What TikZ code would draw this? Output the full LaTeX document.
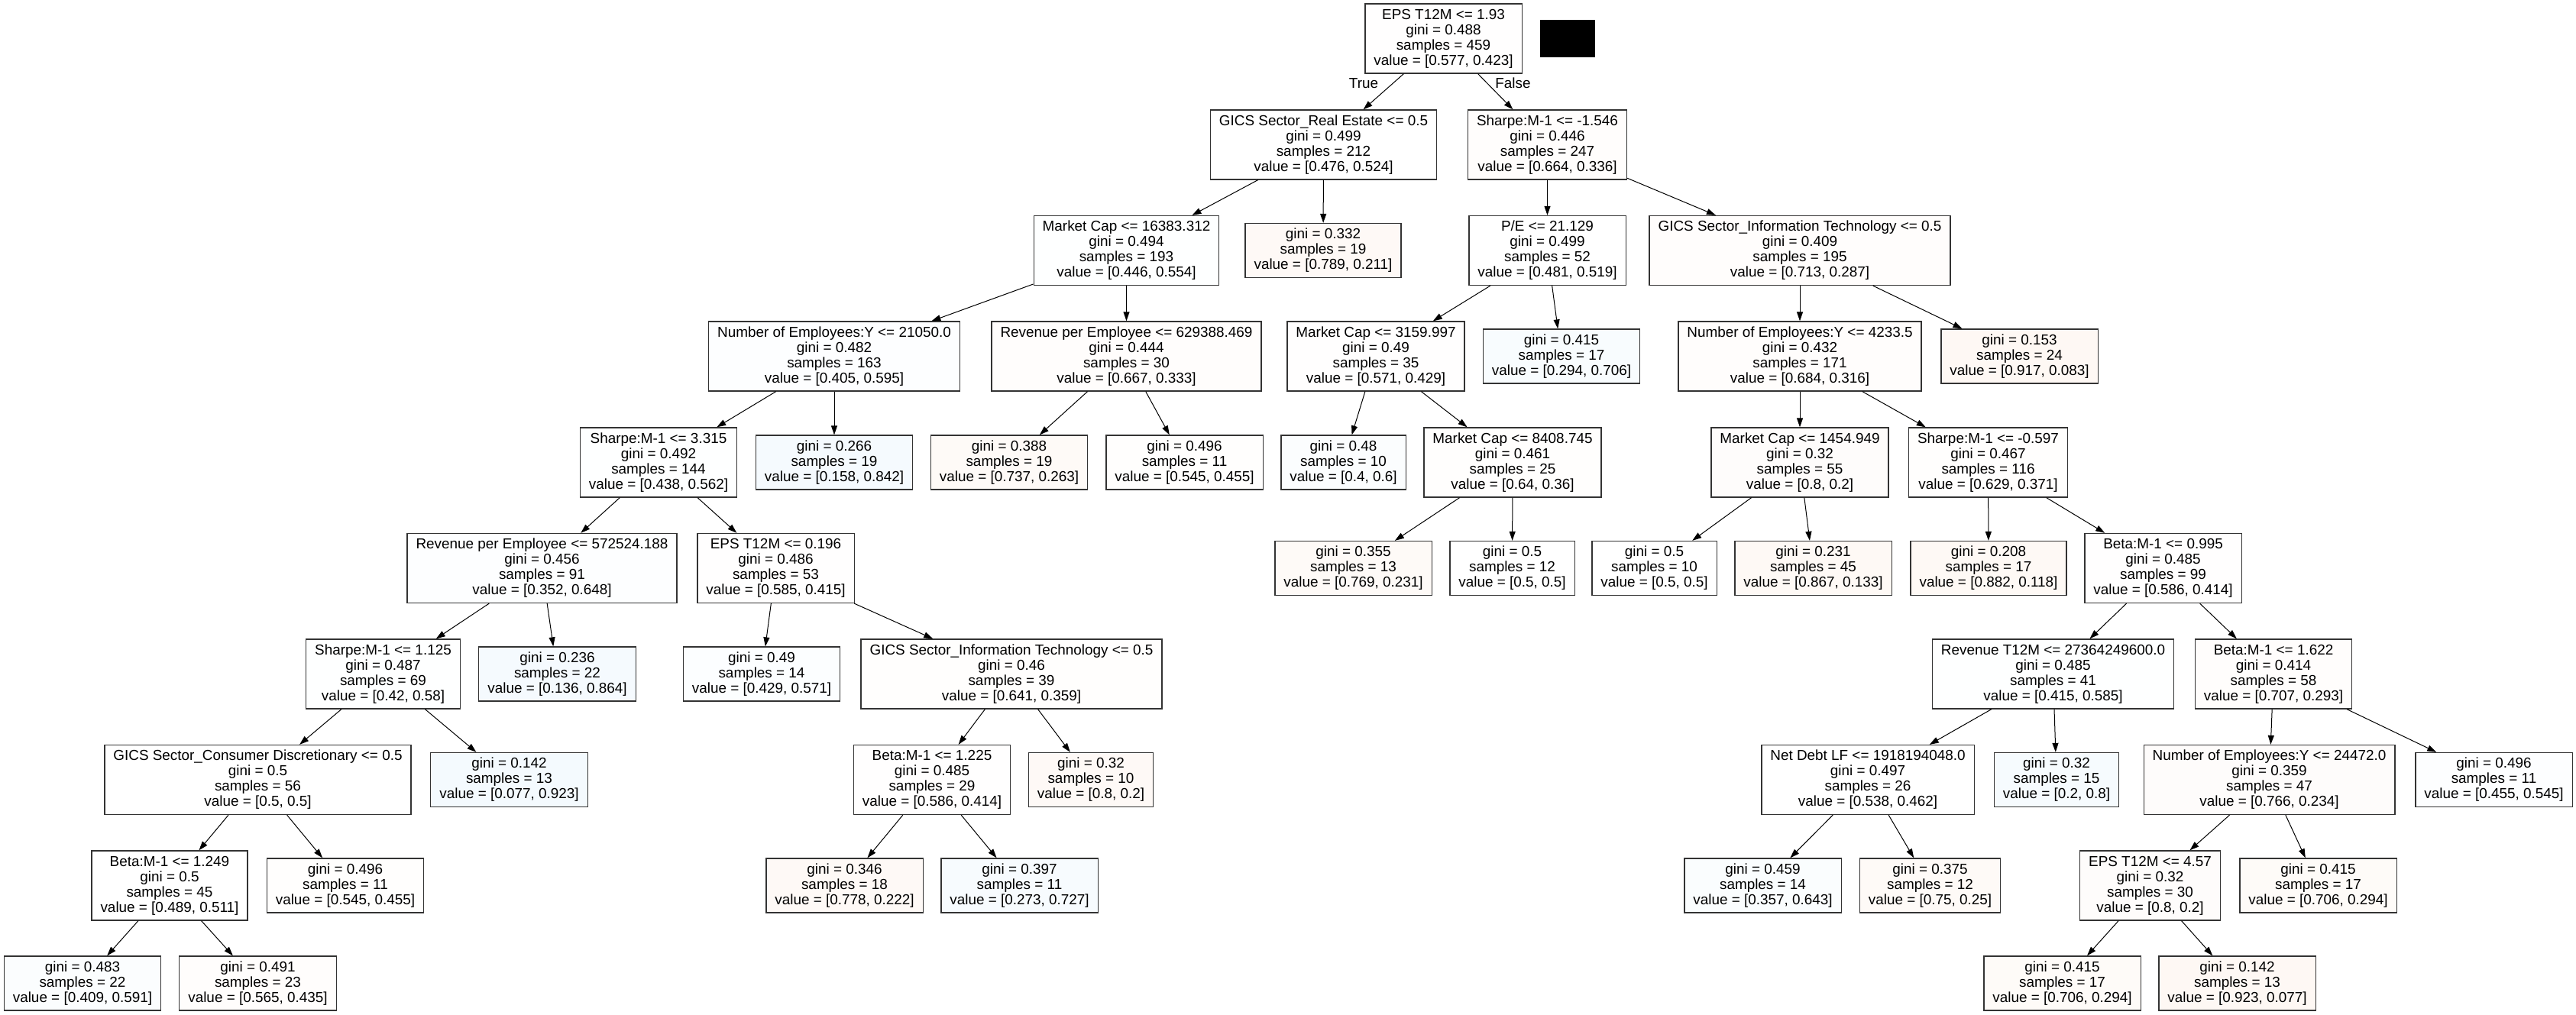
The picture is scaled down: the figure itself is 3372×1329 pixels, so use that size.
\documentclass[tikz,border=0pt]{standalone}
\usepackage{fontspec}
\setmainfont{Liberation Sans}
\usetikzlibrary{arrows.meta}
\definecolor{clsA}{RGB}{229,129,57}
\definecolor{clsB}{RGB}{57,157,229}

\begin{document}
\begin{tikzpicture}[
  x=1pt, y=-1pt,
  split/.style={draw=black!80, line width=1.3pt, minimum height=91pt,
                inner xsep=11.5pt, inner ysep=2pt, align=center},
  leaf/.style={split, minimum height=71pt},
  edge/.style={-{Triangle[length=12pt, width=8pt]}, line width=1pt},
  every node/.style={font=\fontsize{18.9pt}{20pt}\selectfont}
]
  \fill[white] (0,0) rectangle (3372,1329);
  \useasboundingbox (0,0) rectangle (3372,1329);

  % rank 0 and 1
  \node[split, fill=clsA!0.5] (root) at (1889.5,50.5) {EPS T12M <= 1.93\\gini = 0.488\\samples = 459\\value = [0.577, 0.423]};
  \fill[black] (2016,26) rectangle (2088,75);
  \node (lblT) at (1785,109) {True};
  \node (lblF) at (1980.5,109) {False};
  \node[split, fill=white] (realest) at (1732.5,189.5) {GICS Sector\_Real Estate <= 0.5\\gini = 0.499\\samples = 212\\value = [0.476, 0.524]};
  \node[split, fill=clsA!1.5] (shrpA) at (2025.5,189.5) {Sharpe:M-1 <= -1.546\\gini = 0.446\\samples = 247\\value = [0.664, 0.336]};

  % rank 2
  \node[split, fill=clsB!0.5] (mcapA) at (1474.5,328) {Market Cap <= 16383.312\\gini = 0.494\\samples = 193\\value = [0.446, 0.554]};
  \node[leaf, fill=clsA!4.5] (lf332) at (1732,328) {gini = 0.332\\samples = 19\\value = [0.789, 0.211]};
  \node[split, fill=white] (pe) at (2025.5,328) {P/E <= 21.129\\gini = 0.499\\samples = 52\\value = [0.481, 0.519]};
  \node[split, fill=clsA!1.5] (gitA) at (2356,328) {GICS Sector\_Information Technology <= 0.5\\gini = 0.409\\samples = 195\\value = [0.713, 0.287]};

  % rank 3
  \node[split, fill=clsB!1] (empA) at (1092,466.5) {Number of Employees:Y <= 21050.0\\gini = 0.482\\samples = 163\\value = [0.405, 0.595]};
  \node[split, fill=clsA!1.5] (rpeA) at (1474.5,466.5) {Revenue per Employee <= 629388.469\\gini = 0.444\\samples = 30\\value = [0.667, 0.333]};
  \node[split, fill=clsA!0.5] (mcapB) at (1801,466.5) {Market Cap <= 3159.997\\gini = 0.49\\samples = 35\\value = [0.571, 0.429]};
  \node[leaf, fill=clsB!3.5] (lf415a) at (2044,466.5) {gini = 0.415\\samples = 17\\value = [0.294, 0.706]};
  \node[split, fill=clsA!1.5] (empB) at (2356,466.5) {Number of Employees:Y <= 4233.5\\gini = 0.432\\samples = 171\\value = [0.684, 0.316]};
  \node[leaf, fill=clsA!5.5] (lf153) at (2643.5,466.5) {gini = 0.153\\samples = 24\\value = [0.917, 0.083]};

  % rank 4
  \node[split, fill=clsB!0.5] (shrpB) at (862,605.5) {Sharpe:M-1 <= 3.315\\gini = 0.492\\samples = 144\\value = [0.438, 0.562]};
  \node[leaf, fill=clsB!5] (lf266) at (1092,605.5) {gini = 0.266\\samples = 19\\value = [0.158, 0.842]};
  \node[leaf, fill=clsA!4] (lf388) at (1321,605.5) {gini = 0.388\\samples = 19\\value = [0.737, 0.263]};
  \node[leaf, fill=clsA!1] (lf496a) at (1550.5,605.5) {gini = 0.496\\samples = 11\\value = [0.545, 0.455]};
  \node[leaf, fill=clsB!2] (lf480) at (1758.5,605.5) {gini = 0.48\\samples = 10\\value = [0.4, 0.6]};
  \node[split, fill=clsA!1] (mcapC) at (1980,605.5) {Market Cap <= 8408.745\\gini = 0.461\\samples = 25\\value = [0.64, 0.36]};
  \node[split, fill=clsA!2] (mcapD) at (2356,605.5) {Market Cap <= 1454.949\\gini = 0.32\\samples = 55\\value = [0.8, 0.2]};
  \node[split, fill=clsA!1] (shrpC) at (2602.5,605.5) {Sharpe:M-1 <= -0.597\\gini = 0.467\\samples = 116\\value = [0.629, 0.371]};

  % rank 5
  \node[split, fill=clsB!1] (rpeB) at (709.5,744) {Revenue per Employee <= 572524.188\\gini = 0.456\\samples = 91\\value = [0.352, 0.648]};
  \node[split, fill=clsA!0.5] (epsA) at (1015.5,744) {EPS T12M <= 0.196\\gini = 0.486\\samples = 53\\value = [0.585, 0.415]};
  \node[leaf, fill=clsA!4] (lf355) at (1771.5,744) {gini = 0.355\\samples = 13\\value = [0.769, 0.231]};
  \node[leaf, fill=white] (lf500a) at (1979.5,744) {gini = 0.5\\samples = 12\\value = [0.5, 0.5]};
  \node[leaf, fill=white] (lf500b) at (2165.5,744) {gini = 0.5\\samples = 10\\value = [0.5, 0.5]};
  \node[leaf, fill=clsA!5] (lf231) at (2373.5,744) {gini = 0.231\\samples = 45\\value = [0.867, 0.133]};
  \node[leaf, fill=clsA!5] (lf208) at (2603,744) {gini = 0.208\\samples = 17\\value = [0.882, 0.118]};
  \node[split, fill=clsA!0.5] (betaA) at (2831.5,744) {Beta:M-1 <= 0.995\\gini = 0.485\\samples = 99\\value = [0.586, 0.414]};

  % rank 6
  \node[split, fill=clsB!0.5] (shrpD) at (501.5,882.5) {Sharpe:M-1 <= 1.125\\gini = 0.487\\samples = 69\\value = [0.42, 0.58]};
  \node[leaf, fill=clsB!5] (lf236) at (729.5,882.5) {gini = 0.236\\samples = 22\\value = [0.136, 0.864]};
  \node[leaf, fill=clsB!1.5] (lf490) at (997,882.5) {gini = 0.49\\samples = 14\\value = [0.429, 0.571]};
  \node[split, fill=clsA!1] (gitB) at (1324,882.5) {GICS Sector\_Information Technology <= 0.5\\gini = 0.46\\samples = 39\\value = [0.641, 0.359]};
  \node[split, fill=clsB!0.5] (revA) at (2687.5,882.5) {Revenue T12M <= 27364249600.0\\gini = 0.485\\samples = 41\\value = [0.415, 0.585]};
  \node[split, fill=clsA!1.5] (betaB) at (2976,882.5) {Beta:M-1 <= 1.622\\gini = 0.414\\samples = 58\\value = [0.707, 0.293]};

  % rank 7
  \node[split, fill=white] (consd) at (337.5,1021) {GICS Sector\_Consumer Discretionary <= 0.5\\gini = 0.5\\samples = 56\\value = [0.5, 0.5]};
  \node[leaf, fill=clsB!5.5] (lf142a) at (666.5,1021) {gini = 0.142\\samples = 13\\value = [0.077, 0.923]};
  \node[split, fill=clsA!0.5] (betaC) at (1220,1021) {Beta:M-1 <= 1.225\\gini = 0.485\\samples = 29\\value = [0.586, 0.414]};
  \node[leaf, fill=clsA!4.5] (lf320a) at (1428,1021) {gini = 0.32\\samples = 10\\value = [0.8, 0.2]};
  \node[split, fill=white] (debt) at (2445,1021) {Net Debt LF <= 1918194048.0\\gini = 0.497\\samples = 26\\value = [0.538, 0.462]};
  \node[leaf, fill=clsB!4.5] (lf320b) at (2692,1021) {gini = 0.32\\samples = 15\\value = [0.2, 0.8]};
  \node[split, fill=clsA!2] (empC) at (2970.5,1021) {Number of Employees:Y <= 24472.0\\gini = 0.359\\samples = 47\\value = [0.766, 0.234]};
  \node[leaf, fill=clsB!1] (lf496c) at (3264.5,1021) {gini = 0.496\\samples = 11\\value = [0.455, 0.545]};

  % rank 8
  \node[split, fill=white] (betaD) at (222,1159.5) {Beta:M-1 <= 1.249\\gini = 0.5\\samples = 45\\value = [0.489, 0.511]};
  \node[leaf, fill=clsA!1] (lf496b) at (452,1159.5) {gini = 0.496\\samples = 11\\value = [0.545, 0.455]};
  \node[leaf, fill=clsA!4.5] (lf346) at (1105.5,1159.5) {gini = 0.346\\samples = 18\\value = [0.778, 0.222]};
  \node[leaf, fill=clsB!4] (lf397) at (1334.5,1159.5) {gini = 0.397\\samples = 11\\value = [0.273, 0.727]};
  \node[leaf, fill=clsB!2.5] (lf459) at (2307.5,1159.5) {gini = 0.459\\samples = 14\\value = [0.357, 0.643]};
  \node[leaf, fill=clsA!4] (lf375) at (2526.5,1159.5) {gini = 0.375\\samples = 12\\value = [0.75, 0.25]};
  \node[split, fill=clsA!2] (epsB) at (2814.5,1159.5) {EPS T12M <= 4.57\\gini = 0.32\\samples = 30\\value = [0.8, 0.2]};
  \node[leaf, fill=clsA!3.5] (lf415b) at (3034.5,1159.5) {gini = 0.415\\samples = 17\\value = [0.706, 0.294]};

  % rank 9
  \node[leaf, fill=clsB!2] (lf483) at (108,1287.5) {gini = 0.483\\samples = 22\\value = [0.409, 0.591]};
  \node[leaf, fill=clsA!1.5] (lf491) at (337.5,1287.5) {gini = 0.491\\samples = 23\\value = [0.565, 0.435]};
  \node[leaf, fill=clsA!3.5] (lf415c) at (2699.5,1287.5) {gini = 0.415\\samples = 17\\value = [0.706, 0.294]};
  \node[leaf, fill=clsA!5.5] (lf142b) at (2928.5,1287.5) {gini = 0.142\\samples = 13\\value = [0.923, 0.077]};

  % parent -> child
  \foreach \p/\c in {root/realest, root/shrpA, realest/mcapA, realest/lf332,
      shrpA/pe, shrpA/gitA, mcapA/empA, mcapA/rpeA, pe/mcapB, pe/lf415a,
      gitA/empB, gitA/lf153, empA/shrpB, empA/lf266, rpeA/lf388, rpeA/lf496a,
      mcapB/lf480, mcapB/mcapC, empB/mcapD, empB/shrpC, shrpB/rpeB, shrpB/epsA,
      mcapC/lf355, mcapC/lf500a, mcapD/lf500b, mcapD/lf231, shrpC/lf208,
      shrpC/betaA, rpeB/shrpD, rpeB/lf236, epsA/lf490, epsA/gitB,
      betaA/revA, betaA/betaB, shrpD/consd, shrpD/lf142a, gitB/betaC,
      gitB/lf320a, revA/debt, revA/lf320b, betaB/empC, betaB/lf496c,
      consd/betaD, consd/lf496b, betaC/lf346, betaC/lf397, debt/lf459,
      debt/lf375, empC/epsB, empC/lf415b, betaD/lf483, betaD/lf491,
      epsB/lf415c, epsB/lf142b}
    \draw[edge] (\p) -- (\c);
\end{tikzpicture}
\end{document}
